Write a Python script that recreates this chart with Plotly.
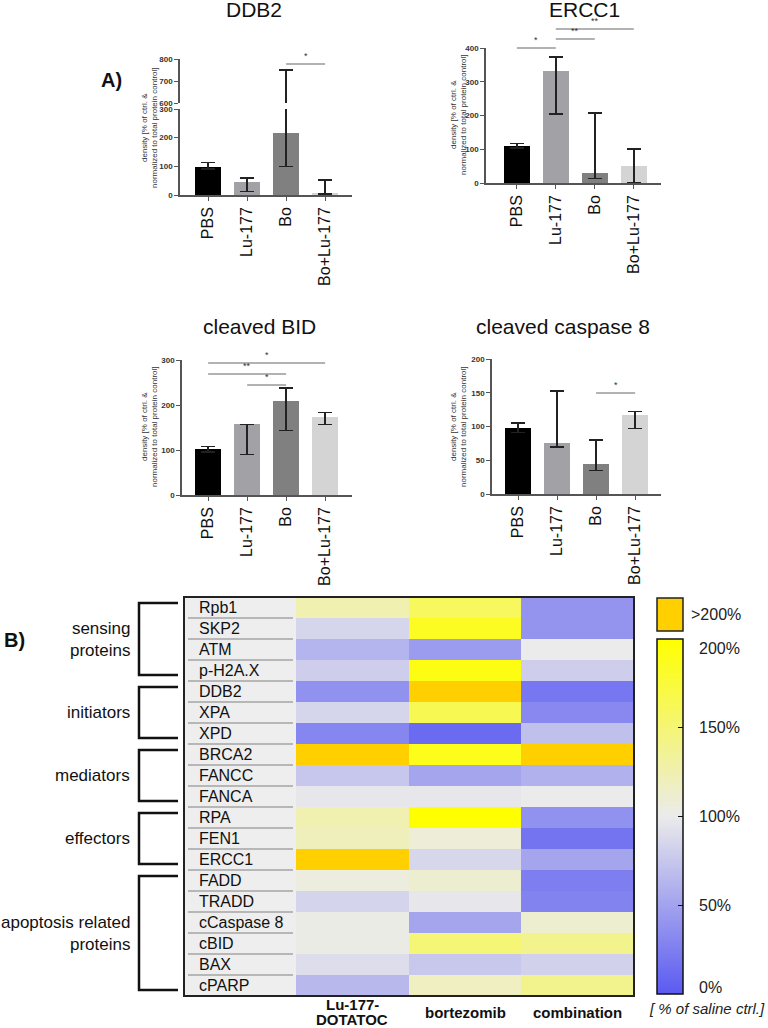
import plotly.graph_objects as go

# ── Data ──────────────────────────────────────────────────────────────────────
GROUPS = ["PBS", "Lu-177", "Bo", "Bo+Lu-177"]

DDB2_MEAN = [97, 45, 218, 5]
DDB2_HI = [113, 60, 750, 52]
DDB2_LO = [90, 12, 100, 3]

ERCC1_MEAN = [110, 333, 30, 50]
ERCC1_HI = [117, 373, 207, 100]
ERCC1_LO = [103, 205, 13, 2]

BID_MEAN = [102, 157, 210, 173]
BID_HI = [108, 157, 238, 183]
BID_LO = [96, 90, 143, 157]

CASP8_MEAN = [98, 75, 45, 117]
CASP8_HI = [105, 153, 80, 122]
CASP8_LO = [91, 70, 35, 97]

PROTEINS = ["Rpb1", "SKP2", "ATM", "p-H2A.X", "DDB2", "XPA", "XPD", "BRCA2", "FANCC",
            "FANCA", "RPA", "FEN1", "ERCC1", "FADD", "TRADD", "cCaspase 8", "cBID",
            "BAX", "cPARP"]
TREATMENTS = ["Lu-177-<br>DOTATOC", "bortezomib", "combination"]
# % of saline control; 230 stands for ">200%"
LU_PCT = [125, 85, 62, 80, 38, 85, 30, 230, 75, 97, 125, 120, 230, 105, 84, 102, 102, 90, 65]
BO_PCT = [160, 185, 45, 192, 230, 165, 12, 188, 52, 97, 200, 108, 86, 112, 97, 52, 150, 76, 118]
COMBO_PCT = [40, 40, 100, 80, 20, 32, 70, 230, 60, 100, 38, 18, 52, 25, 28, 112, 140, 82, 140]

BRACKET_NAMES = ["sensing<br>proteins", "initiators", "mediators", "effectors",
                 "apoptosis related<br>proteins"]
BRACKET_SIZES = [4, 3, 3, 3, 6]

CB_TICKS = [0, 50, 100, 150, 200]

# ── Style ─────────────────────────────────────────────────────────────────────
W, H = 768, 1028
FONT = "Arial, Liberation Sans, sans-serif"
BAR_COLORS = ["#000000", "#a2a2a6", "#808080", "#d4d4d4"]
AX = "#555555"
BLUE, GREY, YELLOW, ORANGE = "#5a5af2", "#ebebeb", "#ffff00", "#ffcf00"
HEAT_SCALE = [[0, BLUE], [0.4, GREY], [0.8, YELLOW], [0.8001, ORANGE], [1, ORANGE]]
CB_SCALE = [[0, BLUE], [0.5, GREY], [1, YELLOW]]


def px(x):
    return x / W


def py(y):
    return 1 - y / H


fig = go.Figure()


def note(text, x, y, size, xref="paper", yref="paper", color="#111111", **kw):
    kw.setdefault("xanchor", "center")
    kw.setdefault("yanchor", "middle")
    fig.add_annotation(xref=xref, yref=yref, x=x, y=y, text=text, showarrow=False,
                       font=dict(size=size, color=color, family=FONT), **kw)


# bar panels: (axis suffix, mean, hi, lo, x-domain px, y-domain px, y range, dtick, x start)
panels = [
    ("", DDB2_MEAN, DDB2_HI, DDB2_LO, (180, 352), (195, 109), [0, 300], 100, -0.72),
    ("3", ERCC1_MEAN, ERCC1_HI, ERCC1_LO, (486, 661), (183, 48), [0, 400], 100, -0.79),
    ("4", BID_MEAN, BID_HI, BID_LO, (182, 352), (495, 360), [0, 300], 100, -0.67),
    ("5", CASP8_MEAN, CASP8_HI, CASP8_LO, (492, 661), (494, 359), [0, 200], 50, -0.67),
]


def bar_trace(mean, hi, lo, xa, ya):
    return go.Bar(
        x=GROUPS, y=mean, xaxis=xa, yaxis=ya, width=0.67,
        marker=dict(color=BAR_COLORS, line=dict(width=0)),
        error_y=dict(type="data", symmetric=False,
                     array=[h - m for h, m in zip(hi, mean)],
                     arrayminus=[m - l for m, l in zip(mean, lo)],
                     color="#222222", thickness=1.6, width=7),
        showlegend=False, hoverinfo="skip",
    )


axis_y = dict(showline=True, linecolor=AX, linewidth=1.5, ticks="outside", ticklen=4,
              tickwidth=1.2, tickcolor=AX, showgrid=False, zeroline=False,
              tickfont=dict(size=8, color="#333333", family=FONT, weight="bold"))
axis_x = dict(type="category", showline=True, linecolor=AX, linewidth=1.5, ticks="outside",
              ticklen=4, tickwidth=1.2, tickcolor=AX, showgrid=False, zeroline=False,
              tickangle=-90, tickfont=dict(size=16, color="#111111", family=FONT))

layout_axes = {}
for suf, mean, hi, lo, xd, yd, yr, dt, x0 in panels:
    xa, ya = "x" + suf, "y" + suf
    fig.add_trace(bar_trace(mean, hi, lo, xa, ya))
    layout_axes["xaxis" + suf] = dict(axis_x, domain=[px(xd[0]), px(xd[1])],
                                      range=[x0, x0 + (xd[1] - xd[0]) / 39], anchor=ya)
    layout_axes["yaxis" + suf] = dict(axis_y, domain=[py(yd[0]), py(yd[1])],
                                      range=yr, dtick=dt, anchor=xa)

# DDB2 upper (broken) segment
fig.add_trace(bar_trace(DDB2_MEAN, DDB2_HI, DDB2_LO, "x", "y2"))
layout_axes["yaxis2"] = dict(axis_y, domain=[py(103), py(59)], range=[600, 800],
                             dtick=100, anchor="x")

# significance brackets: (x axis, from, to, y px, label)
SIG = [
    ("x", "Bo", "Bo+Lu-177", 64, "*"),
    ("x3", "PBS", "Lu-177", 48, "*"),
    ("x3", "Lu-177", "Bo", 39, "**"),
    ("x3", "Lu-177", "Bo+Lu-177", 29, "**"),
    ("x4", "PBS", "Bo+Lu-177", 363, "*"),
    ("x4", "PBS", "Bo", 374, "**"),
    ("x4", "Lu-177", "Bo", 385, "*"),
    ("x5", "Bo", "Bo+Lu-177", 393, "*"),
]
for xa, a, b, ypx, lab in SIG:
    ia, ib = GROUPS.index(a), GROUPS.index(b)
    fig.add_shape(type="line", xref=xa, yref="paper", x0=ia, x1=ib, y0=py(ypx), y1=py(ypx),
                  line=dict(color="#666666", width=1.2))
    note(lab, (ia + ib) / 2, py(ypx - 1), 9, xref=xa, color="#333333", yanchor="bottom")

# titles and y-axis titles
for txt, x, y in [("DDB2", 254, 10), ("ERCC1", 584, 10),
                  ("cleaved BID", 259, 326), ("cleaved caspase 8", 563, 326)]:
    note(txt, px(x), py(y), 21)
ytitle = "density [% of ctrl. &<br>normalized to total protein control]"
for x, y in [(149, 128), (458, 115), (149, 427), (458, 427)]:
    note(ytitle, px(x), py(y), 8, color="#333333", textangle=-90)

note("<b>A)</b>", px(111), py(80), 20)
note("<b>B)</b>", px(14), py(640), 20)

# ── Heatmap ───────────────────────────────────────────────────────────────────
HT, HB, HL, HC, HR = 597, 996, 184, 296, 634
row_h = (HB - HT) / len(PROTEINS)
z = [[l, b, c] for l, b, c in zip(LU_PCT, BO_PCT, COMBO_PCT)]
fig.add_trace(go.Heatmap(
    z=z, x=TREATMENTS, y=PROTEINS, xaxis="x6", yaxis="y6",
    colorscale=HEAT_SCALE, zmin=0, zmax=250, showscale=False, hoverinfo="skip",
))
layout_axes["xaxis6"] = dict(domain=[px(HC), px(HR)], showticklabels=False, showgrid=False,
                             zeroline=False, ticks="", anchor="y6")
layout_axes["yaxis6"] = dict(domain=[py(HB), py(HT)], autorange="reversed",
                             showticklabels=False, showgrid=False, zeroline=False,
                             ticks="", anchor="x6")

# label column
fig.add_shape(type="rect", xref="paper", yref="paper", x0=px(HL), x1=px(HC), y0=py(HB),
              y1=py(HT), fillcolor="#eeeeee", line=dict(width=0), layer="below")
for i in range(1, len(PROTEINS)):
    yy = py(HT + i * row_h)
    fig.add_shape(type="line", xref="paper", yref="paper", x0=px(188), x1=px(293),
                  y0=yy, y1=yy, line=dict(color="#808080", width=1))
for p in PROTEINS:
    note(p, px(197), p, 16, yref="y6", xanchor="left")
fig.add_shape(type="rect", xref="paper", yref="paper", x0=px(HL), x1=px(HR), y0=py(HB),
              y1=py(HT), line=dict(color="#222222", width=2))

# column labels (multi-line labels get a tighter line spacing)
for t in TREATMENTS:
    lines = t.split("<br>")
    first = 1012 - 7.5 * (len(lines) - 1)
    for k, ln in enumerate(lines):
        note("<b>%s</b>" % ln, t, py(first + 15 * k), 15, xref="x6")

# group brackets
start = 0
for name, n in zip(BRACKET_NAMES, BRACKET_SIZES):
    top = HT + start * row_h + 6
    bot = HT + (start + n) * row_h - 6
    path = "M %f,%f L %f,%f L %f,%f L %f,%f" % (px(178), py(top), px(139), py(top),
                                                  px(139), py(bot), px(178), py(bot))
    fig.add_shape(type="path", xref="paper", yref="paper", path=path,
                  line=dict(color="#111111", width=2.5))
    note(name, px(132), py((top + bot) / 2), 17, xanchor="right", align="right")
    start += n

# colour bar (tick labels placed by hand so the end labels sit inside the bar)
CB_TOP, CB_LEN = 639, 355
fig.add_trace(go.Scatter(
    x=[None], y=[None], xaxis="x6", yaxis="y6", mode="markers", showlegend=False,
    hoverinfo="skip",
    marker=dict(color=[0], cmin=0, cmax=200, colorscale=CB_SCALE, showscale=True,
                colorbar=dict(x=px(657), xanchor="left", xpad=0, y=py(CB_TOP),
                              yanchor="top", ypad=0, len=CB_LEN, lenmode="pixels",
                              thickness=26, outlinewidth=1.5, outlinecolor="#111111",
                              tickvals=CB_TICKS, showticklabels=False,
                              ticks="inside", ticklen=5, tickcolor="#111111")),
))
for v in CB_TICKS:
    ypix = CB_TOP + CB_LEN * (1 - v / 200)
    ypix = min(max(ypix, CB_TOP + 9), CB_TOP + CB_LEN - 7)
    note("%d%%" % v, px(697), py(ypix), 16, color="#222222", xanchor="left")
fig.add_shape(type="rect", xref="paper", yref="paper", x0=px(657), x1=px(683), y0=py(631),
              y1=py(598), fillcolor=ORANGE, line=dict(color="#222222", width=1.5))
note(">200%", px(689), py(614), 16, color="#222222", xanchor="left")
note("<i>[ % of saline ctrl.]</i>", px(707), py(1008), 15, color="#222222")

fig.update_layout(
    width=W, height=H, margin=dict(l=0, r=0, t=0, b=0, autoexpand=False), autosize=False,
    paper_bgcolor="white", plot_bgcolor="white", bargap=0,
    font=dict(family=FONT), **layout_axes,
)

fig.write_html("out.html", config={"displayModeBar": False},
               post_script="document.body.style.margin='0px';")
